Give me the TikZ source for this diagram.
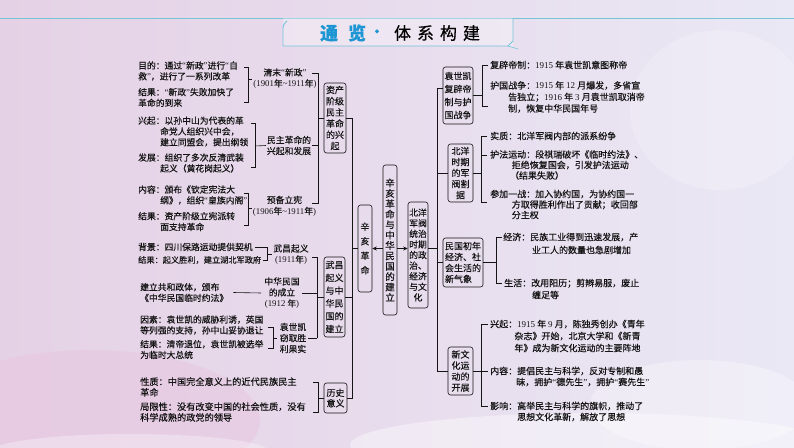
\documentclass[tikz,border=0pt]{standalone}
\usepackage{fontspec}
\setmainfont{Noto Sans CJK SC}[FakeBold=0.4]
\newfontfamily\latf{Liberation Serif}
\newcommand\oq{{\latf “}}
\newcommand\cq{{\latf ”}}
\newcommand\nm[1]{{\latf #1}}
\usetikzlibrary{arrows.meta}
\definecolor{ink}{RGB}{20,20,20}
\definecolor{hdr}{RGB}{118,196,218}
\definecolor{ttl}{RGB}{30,150,212}
\definecolor{bgpink}{RGB}{232,196,224}
\definecolor{bgl}{RGB}{229,209,229}
\definecolor{bgr}{RGB}{234,232,245}
\begin{document}
\begin{tikzpicture}[x=1pt,y=-1pt,
  txt/.style={anchor=west,inner sep=0pt,align=left,text=ink,font=\fontsize{8.8}{10.8}\selectfont},
  rtxt/.style={anchor=west,inner sep=0pt,align=left,text=ink,font=\fontsize{9}{11.5}\selectfont},
  lbl/.style={inner sep=0pt,align=center,text=ink,font=\fontsize{8.8}{11}\selectfont},
  vb/.style={draw=ink,line width=0.6pt,rounded corners=2.5pt,inner sep=0pt,align=center,text=ink},
  ln/.style={draw=ink,line width=0.6pt},
  arr/.style={draw=ink,line width=0.6pt,-{Stealth[length=4.5pt,width=4pt]}},
]
\useasboundingbox (0,0) rectangle (794,447);
\shade[left color=bgl, right color=bgr] (0,0) rectangle (794,447);
\fill[bgpink,opacity=0.45] (90,420) ellipse [x radius=170, y radius=70];
\fill[white,opacity=0.3] (130,452) ellipse [x radius=140, y radius=18];
\fill[white,opacity=0.4] (590,445) ellipse [x radius=240, y radius=32];
\fill[white,opacity=0.3] (700,405) ellipse [x radius=110, y radius=45];
\fill[white,opacity=0.2] (720,110) ellipse [x radius=90, y radius=80];

% header
\draw[hdr,line width=0.8pt] (0,18) -- (794,18);
\fill[white,opacity=0.3] (283,18) rectangle (513,46);
\draw[hdr,line width=0.9pt] (287,21) .. controls (283,25) .. (283,31) -- (283,46) -- (508,46) -- (513,41) -- (513,18);
\draw[hdr,line width=0.6pt] (508,46) -- (518,49);
\node[inner sep=0pt,text=ttl,font=\fontsize{18}{18}\selectfont\bfseries] (t1) at (343,33) {通\hspace{0.55em}览};
\node[inner sep=0pt,text=ttl,font=\fontsize{14}{14}\selectfont\bfseries] (t2) at (377,33) {·};
\node[inner sep=0pt,text=black,font=\fontsize{17}{17}\selectfont] (t3) at (437,33) {体\hspace{0.35em}系\hspace{0.35em}构\hspace{0.35em}建};

% left texts
\node[txt] (A) at (138,71) {目的：通过\oq 新政\cq 进行\oq 自\\救\cq，进行了一系列改革};
\node[txt] (B) at (138,97.5) {结果：\oq 新政\cq 失败加快了\\革命的到来};
\node[txt] (C1) at (138,131.5) {兴起：以孙中山为代表的革\\\hspace*{2.5em}命党人组织兴中会，\\\hspace*{2.5em}建立同盟会，提出纲领};
\node[txt] (D) at (138,163) {发展：组织了多次反清武装\\\hspace*{2.5em}起义（黄花岗起义）};
\node[txt] (E) at (138,195) {内容：颁布《钦定宪法大\\\hspace*{2.5em}纲》，组织\oq 皇族内阁\cq};
\node[txt] (F) at (138,221.5) {结果：资产阶级立宪派转\\\hspace*{2.5em}面支持革命};
\node[txt] (G) at (138,247) {背景：四川保路运动提供契机};
\node[txt,font=\fontsize{8.2}{10}\selectfont] (H) at (138,260) {结果：起义胜利，建立湖北军政府};
\node[txt] (I) at (140,292.5) {建立共和政体，颁布\\《中华民国临时约法》};
\node[txt] (J) at (140,325) {因素：袁世凯的威胁利诱，英国\\等列强的支持，孙中山妥协退让};
\node[txt] (K) at (140,349.5) {结果：清帝退位，袁世凯被选举\\为临时大总统};
\node[txt,font=\fontsize{9.2}{10.8}\selectfont] (L) at (140,387) {性质：中国完全意义上的近代民族民主\\革命};
\node[txt,font=\fontsize{9.2}{10.8}\selectfont] (M) at (140,412) {局限性：没有改变中国的社会性质，没有\\科学成熟的政党的领导};

% middle-left labels
\node[lbl] (Q1) at (285,78.5) {清末\oq 新政\cq\\\nm{(1901}年\nm{\char"7E 1911}年\nm{)}};
\node[lbl] (Q2) at (289,145.5) {民主革命的\\兴起和发展};
\node[lbl] (Q3) at (284.5,206) {预备立宪\\\nm{(1906}年\nm{\char"7E 1911}年\nm{)}};
\node[lbl] (Q4) at (291,254.5) {武昌起义\\\nm{(1911}年\nm{)}};
\node[lbl] (Q5) at (282,293) {中华民国\\的成立\\\nm{(1912} 年\nm{)}};
\node[lbl] (Q6) at (293,338) {袁世凯\\窃取胜\\利果实};

% boxes left
\node[vb,minimum width=22pt,minimum height=70pt,font=\fontsize{9}{11.2}\selectfont] (B1) at (335,118) {资产\\阶级\\民主\\革命\\的兴\\起};
\node[vb,minimum width=21pt,minimum height=80pt,font=\fontsize{9}{12.8}\selectfont] (B2) at (334.5,297) {武昌\\起义\\与中\\华民\\国的\\建立};
\node[vb,minimum width=23pt,minimum height=30pt,font=\fontsize{9}{10.5}\selectfont] (B3) at (335.5,398) {历史\\意义};
\node[vb,minimum width=14pt,minimum height=87pt,font=\fontsize{9}{14.5}\selectfont] (XH) at (365,248.5) {辛\\亥\\革\\命};
\node[vb,minimum width=14pt,minimum height=150pt,font=\fontsize{9.5}{10.4}\selectfont] (CT) at (390,240) {辛\\亥\\革\\命\\与\\中\\华\\民\\国\\的\\建\\立};
\node[vb,minimum width=20pt,minimum height=106pt,font=\fontsize{8.8}{10.6}\selectfont] (BY) at (418,255) {北洋\\军阀\\统治\\时期\\的政\\治、\\经济\\与文\\化};

% boxes right
\node[vb,minimum width=30pt,minimum height=57pt,font=\fontsize{9}{13}\selectfont] (R1) at (458,95.5) {袁世凯\\复辟帝\\制与护\\国战争};
\node[vb,minimum width=25pt,minimum height=58pt,font=\fontsize{9}{11}\selectfont] (R2) at (460.5,173) {北洋\\时期\\的军\\阀割\\据};
\node[vb,minimum width=40pt,minimum height=49pt,align=left,font=\fontsize{9}{11}\selectfont] (R3) at (463,262.5) {民国初年\\经济、社\\会生活的\\新气象};
\node[vb,minimum width=25pt,minimum height=48pt,font=\fontsize{9}{11}\selectfont] (R4) at (460.5,371) {新文\\化运\\动的\\开展};

% right texts
\node[rtxt] (T1) at (490,65) {复辟帝制：\nm{1915} 年袁世凯意图称帝};
\node[rtxt] (T2) at (490,97) {护国战争：\nm{1915} 年 \nm{12} 月爆发，多省宣\\\hspace*{2em}告独立；\nm{1916} 年 \nm{3} 月袁世凯取消帝\\\hspace*{2em}制，恢复中华民国年号};
\node[rtxt] (T3) at (490,136) {实质：北洋军阀内部的派系纷争};
\node[rtxt,font=\fontsize{9}{10.5}\selectfont] (T4) at (490,165) {护法运动：段祺瑞破坏《临时约法》、\\\hspace*{2.4em}拒绝恢复国会，引发护法运动\\\hspace*{2.2em}（结果失败）};
\node[rtxt,font=\fontsize{9}{10.5}\selectfont] (T5) at (490,204.5) {参加一战：加入协约国，为协约国一\\\hspace*{2.4em}方取得胜利作出了贡献；收回部\\\hspace*{2.4em}分主权};
\node[rtxt,font=\fontsize{9}{13}\selectfont] (T6) at (503,243.5) {经济：民族工业得到迅速发展，产\\\hspace*{3.2em}业工人的数量也急剧增加};
\node[rtxt,font=\fontsize{9}{12}\selectfont] (T7) at (504,289) {生活：改用阳历；剪辫易服，废止\\\hspace*{3.1em}缠足等};
\node[rtxt,font=\fontsize{9}{12}\selectfont] (T8) at (490,336) {兴起：\nm{1915} 年 \nm{9} 月，陈独秀创办《青年\\\hspace*{2.7em}杂志》开始，北京大学和《新青\\\hspace*{2.7em}年》成为新文化运动的主要阵地};
\node[rtxt,font=\fontsize{9}{11}\selectfont] (T9) at (490,376.5) {内容：提倡民主与科学，反对专制和愚\\\hspace*{2.9em}昧，拥护\oq 德先生\cq，拥护\oq 赛先生\cq};
\node[rtxt,font=\fontsize{9}{11}\selectfont] (T10) at (490,411.5) {影响：高举民主与科学的旗帜，推动了\\\hspace*{3em}思想文化革新，解放了思想};

% left brackets
\draw[ln] (244,67) -| (248,102) -- (244,102);
\draw[ln] (248,79) -- ([xshift=-1pt]Q1.west |- 0,79);
\draw[ln] (251,123) -| (255,167) -- (251,167);
\draw[ln] (255,146) -- ([xshift=-1pt]Q2.west);
\draw[ln] (244,193) -| (248,225) -- (244,225);
\draw[ln] (248,208) -- ([xshift=-1pt]Q3.west |- 0,208);
\draw[ln] ([xshift=2pt]G.east) -- (267,247) -- (267,260) -- ([xshift=2pt]H.east);
\draw[ln] (267,254.5) -- ([xshift=-1pt]Q4.west);
\draw[ln] ([xshift=5pt]I.east) -- ([xshift=-3pt]Q5.west);
\draw[ln] (268,327) -| (273,348) -- (268,348);
\draw[ln] (273,338) -- ([xshift=-3pt]Q6.west);
\draw[ln] ([xshift=2pt]Q5.east) -- (317,293);
\draw[ln] ([xshift=2pt]Q6.east) -- (317,338);
\draw[ln] (312,73) -| (318,203) -- (312,203);
\draw[ln] ([xshift=1pt]Q2.east) -- (318,145.5);
\draw[ln] (318,118) -- (B1.west);
\draw[ln] (312,257) -| (317,338);
\draw[ln] (317,297) -- (B2.west);
\draw[ln] (313,382) -| (318,412) -- (313,412);
\draw[ln] (318,398) -- (B3.west);

% left trunk
\draw[ln] (B1.east) -- (352,118) -- (352,398) -- (B3.east);
\draw[ln] (B2.east) -- (352,297);
\draw[ln] (352,248.5) -- (XH.west);

% arrows from centre
\draw[arr] (CT.west |- XH.east) -- (XH.east);
\draw[arr] (CT.east |- XH.east) -- (BY.west |- XH.east);

% right trunk
\draw[ln] (BY.east |- XH.east) -- (437,248.5);
\draw[ln] (R1.west |- 0,88) -- (437,88) -- (437,371) -- (R4.west);
\draw[ln] (437,173) -- (R2.west);
\draw[ln] (437,262.5) -- (R3.west);

% right brackets
\draw[ln] (488,65) -| (482,106) -- (488,106);
\draw[ln] (R1.east) -- (482,95.5);
\draw[ln] (487,136) -| (481,202) -- (487,202);
\draw[ln] (481,155) -- (487,155);
\draw[ln] (R2.east) -- (481,173);
\draw[ln] (502,237) -| (496,283) -- (502,283);
\draw[ln] (R3.east) -- (496,262.5);
\draw[ln] (488,324) -| (481,406) -- (488,406);
\draw[ln] (R4.east) -- (488,371);
\end{tikzpicture}
\end{document}
